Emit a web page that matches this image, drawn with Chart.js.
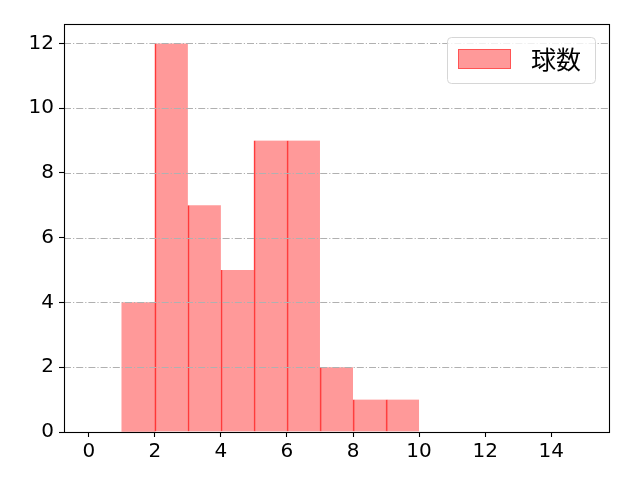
<!DOCTYPE html>
<html>
<head>
<meta charset="utf-8">
<script src="https://cdn.jsdelivr.net/npm/chart.js@4"></script>
<style>
html,body{margin:0;padding:0;background:#fff;}
#wrap{width:640px;height:480px;}
</style>
</head>
<body>
<div id="wrap"><canvas id="c" width="640" height="480"></canvas></div>
<script>
const seriesLabel = "球数";
const binEdges = [1, 2, 3, 4, 5, 6, 7, 8, 9, 10];
const counts = [4, 12, 7, 5, 9, 9, 2, 1, 1];
const xTicks = [0, 2, 4, 6, 8, 10, 12, 14];
const yTicks = [0, 2, 4, 6, 8, 10, 12];

const barData = counts.map((c, i) => ({ x: (binEdges[i] + binEdges[i + 1]) / 2, y: c }));
const FONT = '"DejaVu Sans", "Noto Sans CJK JP", sans-serif';
const fill = 'rgba(255,0,0,0.4)';
const edge = 'rgba(255,0,0,0.72)';

const overlay = {
  id: 'overlay',
  afterDatasetsDraw(chart) {
    const ctx = chart.ctx, a = chart.chartArea, ys = chart.scales.y;
    ctx.save();
    ctx.strokeStyle = '#b0b0b0';
    ctx.lineWidth = 1.1;
    ctx.setLineDash([7, 2, 1.2, 2]);
    yTicks.forEach(v => {
      const p = Math.round(ys.getPixelForValue(v)) + 0.5;
      ctx.beginPath();
      ctx.moveTo(a.left, p);
      ctx.lineTo(a.right, p);
      ctx.stroke();
    });
    ctx.restore();
  },
  afterDraw(chart) {
    const ctx = chart.ctx, a = chart.chartArea;
    ctx.save();
    ctx.strokeStyle = '#000';
    ctx.lineWidth = 1.1;
    ctx.strokeRect(Math.round(a.left) + 0.5, Math.round(a.top) + 0.5,
                   Math.round(a.right - a.left), Math.round(a.bottom - a.top));
    // legend
    const lw = 148, lh = 46;
    const lx = a.right - 14 - lw, ly = a.top + 13;
    ctx.beginPath();
    ctx.roundRect(lx + 0.5, ly + 0.5, lw, lh, 4);
    ctx.fillStyle = 'rgba(255,255,255,0.8)';
    ctx.fill();
    ctx.strokeStyle = '#d6d6d6';
    ctx.lineWidth = 1;
    ctx.stroke();
    ctx.fillStyle = fill;
    ctx.fillRect(lx + 11, ly + 12, 53, 20);
    ctx.strokeStyle = 'rgba(255,0,0,0.45)';
    ctx.strokeRect(lx + 11.5, ly + 12.5, 52, 19);
    ctx.fillStyle = '#000';
    ctx.font = '25px "Noto Sans CJK JP", sans-serif';
    ctx.textBaseline = 'middle';
    ctx.textAlign = 'left';
    ctx.fillText(seriesLabel, lx + 84, ly + 22);
    ctx.restore();
  }
};

new Chart(document.getElementById('c'), {
  type: 'bar',
  data: {
    datasets: [{
      label: seriesLabel,
      data: barData,
      backgroundColor: fill,
      borderColor: edge,
      borderWidth: c => (c.dataIndex === 0 ? 0 : { left: 1, right: 0, top: 0, bottom: 0 }),
      borderSkipped: false,
      barPercentage: 1,
      categoryPercentage: 1
    }]
  },
  options: {
    responsive: false,
    animation: false,
    devicePixelRatio: 1,
    layout: { padding: { top: 24, right: 31, left: 0, bottom: 0 } },
    plugins: { legend: { display: false }, tooltip: { enabled: false } },
    scales: {
      x: {
        type: 'linear',
        offset: false,
        min: -0.75,
        max: 15.75,
        afterBuildTicks: s => { s.ticks = xTicks.map(v => ({ value: v })); },
        afterFit: s => { s.height = 48; },
        grid: { offset: false, drawOnChartArea: false, drawTicks: true, tickLength: 5, tickColor: '#000', tickWidth: 1.1 },
        border: { display: false },
        ticks: { color: '#000', font: { family: FONT, size: 20 }, padding: 3, maxRotation: 0, autoSkip: false }
      },
      y: {
        min: 0,
        max: 12.6,
        afterBuildTicks: s => { s.ticks = yTicks.map(v => ({ value: v })); },
        afterFit: s => { s.width = 64; },
        grid: { drawOnChartArea: false, drawTicks: true, tickLength: 5, tickColor: '#000', tickWidth: 1.1 },
        border: { display: false },
        ticks: { color: '#000', font: { family: FONT, size: 20 }, padding: 5, autoSkip: false }
      }
    }
  },
  plugins: [overlay]
});
</script>
</body>
</html>
